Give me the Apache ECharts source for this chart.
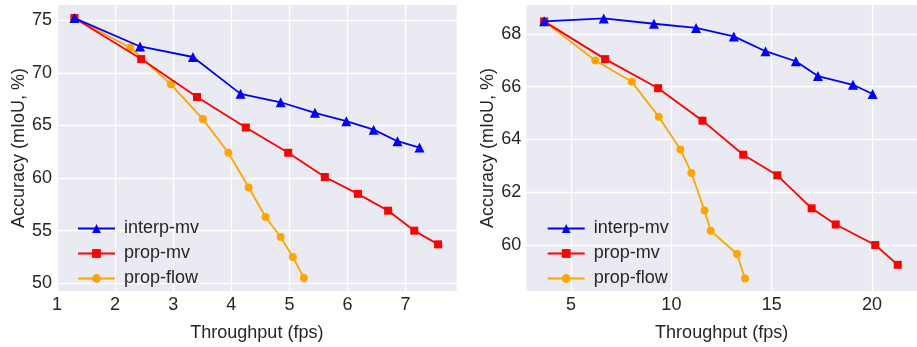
<!DOCTYPE html>
<html>
<head>
<meta charset="utf-8">
<script src="https://cdn.jsdelivr.net/npm/echarts@6/dist/echarts.min.js"></script>
<style>
  html, body { margin: 0; padding: 0; background: #fff; }
  #chart { width: 917px; height: 347px; }
</style>
</head>
<body>
<div id="chart"></div>
<script>
// left panel: throughput (fps) vs accuracy
const leftInterpX = [1.30, 2.43, 3.34, 4.16, 4.85, 5.44, 5.98, 6.45, 6.86, 7.24]
const leftInterpY = [75.2, 72.5, 71.5, 68.0, 67.2, 66.2, 65.4, 64.6, 63.5, 62.9]
const leftPropMvX = [1.30, 2.45, 3.41, 4.25, 4.98, 5.61, 6.18, 6.70, 7.15, 7.56]
const leftPropMvY = [75.2, 71.3, 67.7, 64.8, 62.4, 60.1, 58.5, 56.9, 55.0, 53.7]
const leftFlowX = [1.30, 2.26, 2.96, 3.51, 3.95, 4.30, 4.59, 4.85, 5.06, 5.25]
const leftFlowY = [75.2, 72.4, 68.9, 65.6, 62.4, 59.1, 56.3, 54.4, 52.5, 50.5]

// right panel
const rightInterpX = [3.66, 6.63, 9.13, 11.23, 13.11, 14.69, 16.20, 17.30, 19.05, 20.03]
const rightInterpY = [68.47, 68.58, 68.38, 68.22, 67.90, 67.34, 66.96, 66.40, 66.07, 65.72]
const rightPropMvX = [3.66, 6.70, 9.34, 11.55, 13.58, 15.28, 16.99, 18.19, 20.16, 21.28]
const rightPropMvY = [68.47, 67.04, 65.94, 64.71, 63.42, 62.64, 61.39, 60.78, 60.00, 59.25]
const rightFlowX = [3.66, 6.21, 8.03, 9.37, 10.45, 11.00, 11.65, 11.96, 13.27, 13.67]
const rightFlowY = [68.47, 66.99, 66.18, 64.86, 63.62, 62.73, 61.31, 60.54, 59.66, 58.73]

// tick values
const leftXTicks = [1, 2, 3, 4, 5, 6, 7]
const leftYTicks = [50, 55, 60, 65, 70, 75]
const rightXTicks = [5, 10, 15, 20]
const rightYTicks = [60, 62, 64, 66, 68]

const seriesNames = ['interp-mv', 'prop-mv', 'prop-flow']
const colors = ['#0000FF', '#FF0000', '#FFA500']
const symbols = ['triangle', 'rect', 'circle']
const symbolSizes = [10, 8, 8]

const font = 'Liberation Sans, Arial, sans-serif'
const textColor = '#262626'

const zip = (xs, ys) => xs.map((x, i) => [x, ys[i]])

const makeSeries = (idx, dataList) =>
  dataList.map((data, i) => ({
    name: seriesNames[i],
    type: 'line',
    xAxisIndex: idx,
    yAxisIndex: idx,
    data,
    symbol: symbols[i],
    symbolSize: symbolSizes[i],
    z: 10 - i, // blue on top
    lineStyle: { color: colors[i], width: 1.8 },
    itemStyle: { color: colors[i] },
    animation: false
  }))

const axisBase = (gridIndex, min, max, ticks) => ({
  type: 'value',
  gridIndex,
  min,
  max,
  nameLocation: 'middle',
  nameTextStyle: { fontSize: 18, color: textColor, fontFamily: font },
  axisLine: { show: false },
  axisTick: { show: false, customValues: ticks },
  axisLabel: { fontSize: 18, color: textColor, fontFamily: font, margin: 5, customValues: ticks },
  splitLine: { lineStyle: { color: '#ffffff', width: 1.3 } }
})

const xAxisBase = (gridIndex, min, max, ticks) =>
  Object.assign(axisBase(gridIndex, min, max, ticks), {
    name: 'Throughput (fps)',
    nameGap: 33
  })

const yAxisBase = (gridIndex, min, max, ticks) =>
  Object.assign(axisBase(gridIndex, min, max, ticks), {
    name: 'Accuracy (mIoU, %)',
    nameRotate: 90,
    nameGap: 29
  })

const legendBase = (left) => ({
  data: seriesNames,
  orient: 'vertical',
  left,
  top: 214,
  itemWidth: 37,
  itemHeight: 11,
  itemGap: 6,
  textStyle: { fontSize: 18, color: textColor, fontFamily: font, padding: [0, 0, 0, 4], lineHeight: 19 },
  selectedMode: false
})

const chart = echarts.init(document.getElementById('chart'), null, { renderer: 'canvas' })

const option = {
  animation: false,
  backgroundColor: '#ffffff',
  grid: [
    { left: 57, right: 460.3, top: 5, bottom: 44.3, show: true, backgroundColor: '#EAEAF2', borderWidth: 0 },
    { left: 526.3, right: -10, top: 5, bottom: 44.3, show: true, backgroundColor: '#EAEAF2', borderWidth: 0 }
  ],
  xAxis: [xAxisBase(0, 1, 7.88, leftXTicks), xAxisBase(1, 2.77, 22.24, rightXTicks)],
  yAxis: [yAxisBase(0, 49.27, 76.44, leftYTicks), yAxisBase(1, 58.26, 69.09, rightYTicks)],
  legend: [
    Object.assign(legendBase(72), { id: 'l0' }),
    Object.assign(legendBase(541.7), { id: 'l1' })
  ],
  series: [
    ...makeSeries(0, [zip(leftInterpX, leftInterpY), zip(leftPropMvX, leftPropMvY), zip(leftFlowX, leftFlowY)]),
    ...makeSeries(1, [zip(rightInterpX, rightInterpY), zip(rightPropMvX, rightPropMvY), zip(rightFlowX, rightFlowY)])
  ]
}

chart.setOption(option)
</script>
</body>
</html>
